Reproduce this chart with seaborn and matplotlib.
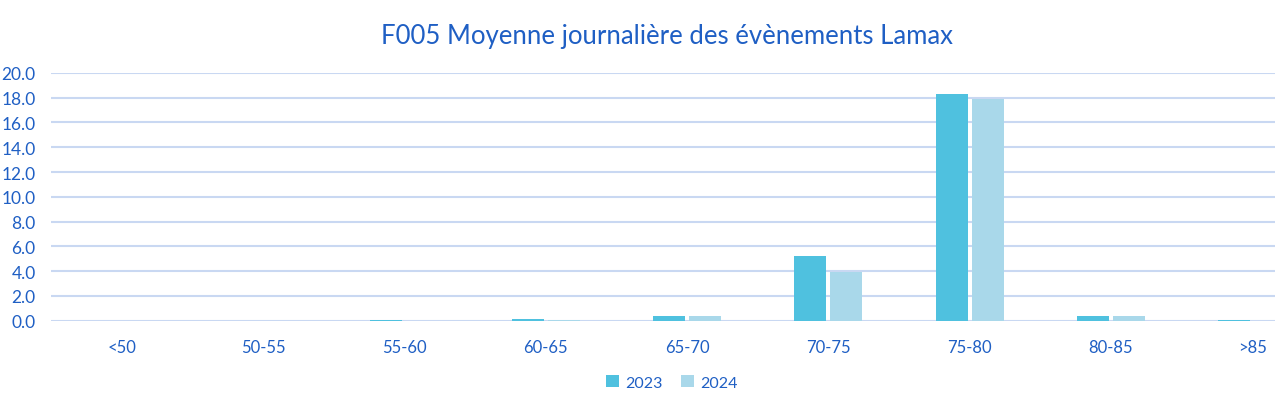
import pandas as pd
import seaborn as sns
import matplotlib.pyplot as plt

# Data
categories = ["<50", "50-55", "55-60", "60-65", "65-70", "70-75", "75-80", "80-85", ">85"]
values_2023 = [0.0, 0.0, 0.08, 0.15, 0.4, 5.2, 18.3, 0.35, 0.08]
values_2024 = [0.0, 0.0, 0.0, 0.08, 0.4, 3.9, 17.9, 0.4, 0.0]
years = ["2023", "2024"]
colors = ["#4FC1DF", "#A9D8EA"]
text_color = "#1F5FC4"

df = pd.DataFrame({
    "cat": categories * 2,
    "val": values_2023 + values_2024,
    "year": [years[0]] * len(categories) + [years[1]] * len(categories),
})

sns.set_theme(style="white")
plt.rcParams["font.family"] = ["Lato", "DejaVu Sans"]

fig, ax = plt.subplots(figsize=(12.75, 4.02), dpi=100)
# plot area runs past the right edge like the cropped reference
left, right = 0.040, 1.0376
fig.subplots_adjust(left=left, right=right, top=0.816, bottom=0.2)

sns.barplot(data=df, x="cat", y="val", hue="year", palette=colors,
            order=categories, hue_order=years, width=0.51, gap=0.11,
            saturation=1, linewidth=0, ax=ax)

ax.set_ylim(0, 20)
ax.set_yticks([i * 2 for i in range(11)])
ax.set_yticklabels([f"{i * 2:.1f}" for i in range(11)])
ax.yaxis.grid(True, color="#C9D8F2", linewidth=1.5)
ax.set_axisbelow(True)
for s in ax.spines.values():
    s.set_visible(False)
ax.tick_params(axis="y", length=0, labelsize=12.5, labelcolor=text_color, pad=11)
ax.tick_params(axis="x", length=0, labelsize=12, labelcolor=text_color, pad=13)
ax.set_xlabel("")
ax.set_ylabel("")
ax.set_xlim(-0.5, len(categories) - 0.5)

fig.text(0.523, 0.908, "F005 Moyenne journalière des évènements Lamax",
         color=text_color, fontsize=18.5, ha="center", va="center")

# legend centred at figure x ~0.527
leg_x = (0.527 - left) / (right - left)
ax.legend(loc="center", bbox_to_anchor=(leg_x, -0.25), ncol=2, frameon=False,
          fontsize=11.5, labelcolor=text_color, handlelength=0.8, handleheight=0.8,
          handletextpad=0.4, columnspacing=1.2)

fig.savefig("out.png", dpi=100)
